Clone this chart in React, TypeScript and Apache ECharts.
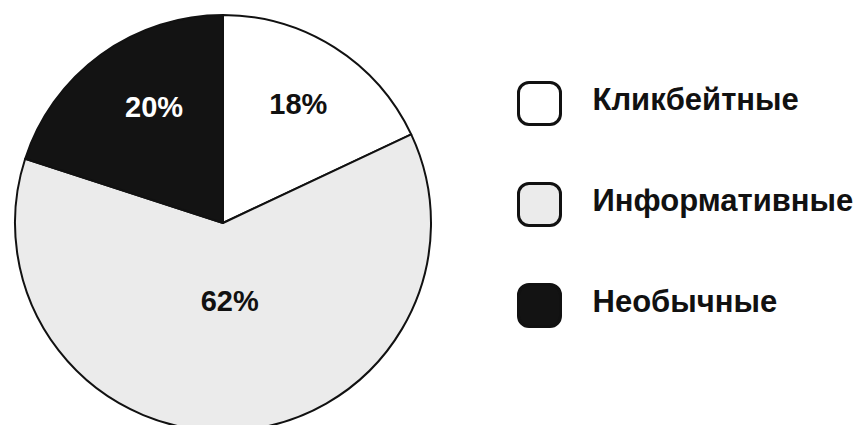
import React, { useEffect, useRef } from "react";
import * as echarts from "echarts";

const categories = ["Кликбейтные", "Информативные", "Необычные"];
const values = [18, 62, 20];
const sliceColors = ["#ffffff", "#ebebeb", "#131313"];
const labelColors = ["#111111", "#111111", "#ffffff"];
// padding used to nudge each inside label horizontally: [top, right, bottom, left]
const labelPads = [
  [0, 0, 0, 36],
  [0, 0, 0, 0],
  [0, 12, 0, 0],
];

export default function App() {
  const ref = useRef<HTMLDivElement>(null);
  useEffect(() => {
    document.body.style.margin = "0";
    const chart = echarts.init(ref.current!, undefined, { renderer: "svg" });
    chart.setOption({
      animation: false,
      backgroundColor: "#ffffff",
      legend: {
        orient: "vertical",
        left: 517,
        top: 81,
        padding: 0,
        itemWidth: 42,
        itemHeight: 42,
        itemGap: 56,
        icon: "roundRect",
        selectedMode: false,
        itemStyle: { borderColor: "#111111", borderWidth: 3 },
        formatter: (name: string) => `{n|${name}}\n{s| }`,
        textStyle: {
          fontFamily: "Liberation Sans, Arial, sans-serif",
          fontWeight: "bold",
          fontSize: 31,
          color: "#111111",
          padding: [0, 0, 0, 27],
          rich: {
            n: {
              fontFamily: "Liberation Sans, Arial, sans-serif",
              fontWeight: "bold",
              fontSize: 31,
              lineHeight: 36,
              color: "#111111",
            },
            s: { fontSize: 2, lineHeight: 8 },
          },
        },
        data: categories,
      },
      series: [
        {
          type: "pie",
          center: [223, 223],
          radius: 208,
          startAngle: 90,
          clockwise: true,
          avoidLabelOverlap: false,
          itemStyle: { borderColor: "#111111", borderWidth: 2 },
          emphasis: { disabled: true },
          label: {
            show: true,
            position: "inside",
            formatter: "{c}%\n ",
            lineHeight: 58,
            fontFamily: "Liberation Sans, Arial, sans-serif",
            fontWeight: "bold",
            fontSize: 29,
          },
          labelLine: { show: false },
          data: categories.map((name, i) => ({
            name,
            value: values[i],
            itemStyle: { color: sliceColors[i] },
            label: { color: labelColors[i], padding: labelPads[i] },
          })),
        },
      ],
    });
    return () => chart.dispose();
  }, []);
  return <div ref={ref} style={{ width: 856, height: 425 }} />;
}
